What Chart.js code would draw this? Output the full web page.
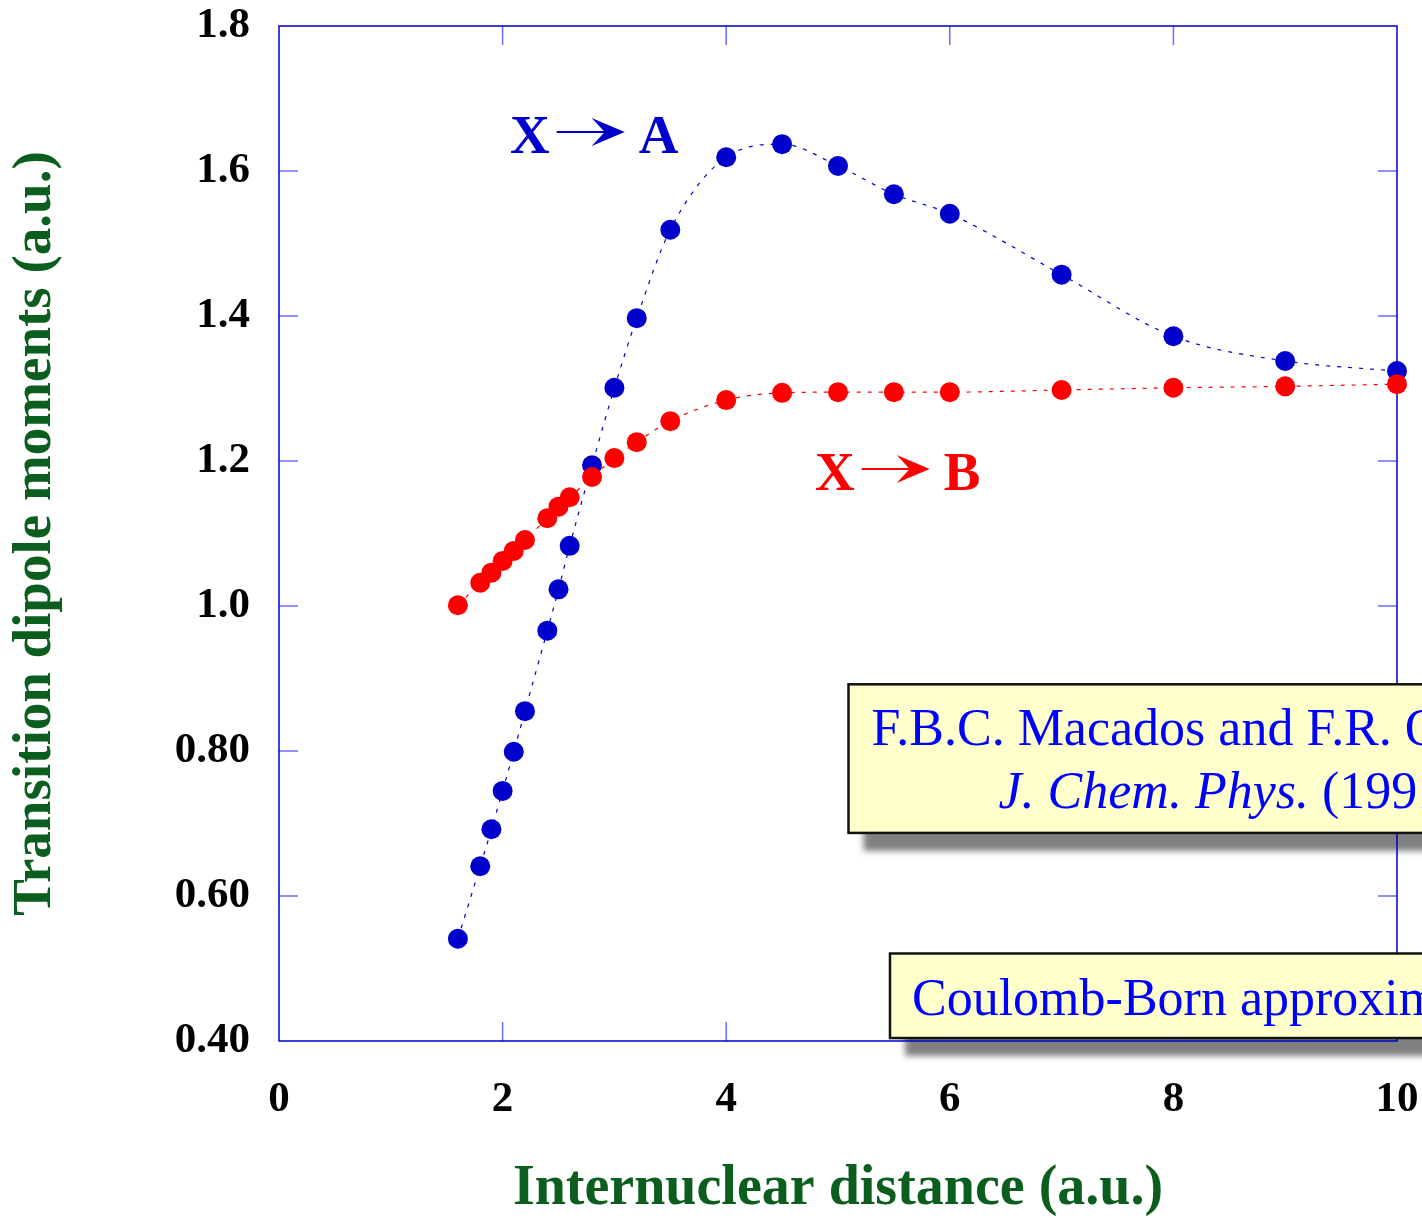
<!DOCTYPE html>
<html>
<head>
<meta charset="utf-8">
<script src="https://cdn.jsdelivr.net/npm/chart.js@4.4.1/dist/chart.umd.min.js"></script>
<style>
  html, body { margin: 0; padding: 0; background: #fff; overflow: hidden; }
  #wrap { width: 1800px; height: 1218px; position: relative; }
</style>
</head>
<body>
<div id="wrap"><canvas id="dipole-chart"></canvas></div>
<script>
const distance = [1.6, 1.8, 1.9, 2.0, 2.1, 2.2, 2.4, 2.5, 2.6, 2.8, 3.0, 3.2, 3.5, 4.0, 4.5, 5.0, 5.5, 6.0, 7.0, 8.0, 9.0, 10.0]
const xToA = [0.541, 0.641, 0.692, 0.745, 0.799, 0.855, 0.966, 1.023, 1.083, 1.194, 1.301, 1.397, 1.519, 1.619, 1.637, 1.607, 1.568, 1.541, 1.457, 1.372, 1.338, 1.324]
const xToB = [1.001, 1.032, 1.046, 1.062, 1.076, 1.091, 1.121, 1.137, 1.150, 1.178, 1.204, 1.226, 1.255, 1.284, 1.294, 1.295, 1.295, 1.295, 1.298, 1.301, 1.303, 1.306]
const xTickLabels = ["0", "2", "4", "6", "8", "10"]
const yTickLabels = ["0.40", "0.60", "0.80", "1.0", "1.2", "1.4", "1.6", "1.8"]

const BLUE = "#0000cc"
const RED = "#ff0000"
const GREEN = "#0b5e1d"
const SERIF = "'Liberation Serif', 'Times New Roman', serif"

// arrow label: "X --> A"
function transition(ctx, x, y, from, to, color) {
    ctx.save()
    ctx.fillStyle = color
    ctx.strokeStyle = color
    ctx.font = "bold 55px " + SERIF
    ctx.textBaseline = "alphabetic"
    ctx.fillText(from, x, y)
    const start = x + ctx.measureText(from).width + 7
    const tip = start + 68
    const ay = y - 21
    ctx.lineWidth = 2
    ctx.beginPath()
    ctx.moveTo(start, ay)
    ctx.lineTo(tip - 18, ay)
    ctx.stroke()
    ctx.beginPath()
    ctx.moveTo(tip, ay)
    ctx.lineTo(tip - 33, ay - 14)
    ctx.lineTo(tip - 20, ay)
    ctx.lineTo(tip - 33, ay + 14)
    ctx.closePath()
    ctx.fill()
    ctx.fillText(to, tip + 14, y)
    ctx.restore()
}

function boxRect(chart, b) {
    const xs = chart.scales.x, ys = chart.scales.y
    const left = xs.getPixelForValue(b.x)
    const top = ys.getPixelForValue(b.top)
    const bottom = ys.getPixelForValue(b.bottom)
    return {left: left, top: top, w: chart.width - left + 20, h: bottom - top}
}

const refBox = {x: 5.094, top: 0.892, bottom: 0.687}
const methodBox = {x: 5.465, top: 0.5207, bottom: 0.4041}

const decorations = {
    id: "decorations",
    beforeDatasetsDraw(chart) {
        const ctx = chart.ctx
        const a = chart.chartArea
        const xs = chart.scales.x, ys = chart.scales.y
        ctx.save()
        // box shadows
        ctx.fillStyle = "#808080"
        ctx.filter = "blur(3px)"
        for (const b of [refBox, methodBox]) {
            const r = boxRect(chart, b)
            ctx.fillRect(r.left + 15, r.top + 18, r.w, r.h)
        }
        ctx.filter = "none"
        // inner ticks on all four sides
        ctx.strokeStyle = "#6b6bff"
        ctx.lineWidth = 1.5
        ctx.beginPath()
        for (const v of [2, 4, 6, 8]) {
            const px = xs.getPixelForValue(v)
            ctx.moveTo(px, a.bottom); ctx.lineTo(px, a.bottom - 19)
            ctx.moveTo(px, a.top); ctx.lineTo(px, a.top + 19)
        }
        for (const v of [0.6, 0.8, 1.0, 1.2, 1.4, 1.6]) {
            const py = ys.getPixelForValue(v)
            ctx.moveTo(a.left, py); ctx.lineTo(a.left + 19, py)
            ctx.moveTo(a.right, py); ctx.lineTo(a.right - 19, py)
        }
        ctx.stroke()
        // frame
        ctx.strokeStyle = BLUE
        ctx.lineWidth = 1.5
        ctx.strokeRect(a.left, a.top, a.right - a.left, a.bottom - a.top)
        ctx.restore()
    },
    afterDatasetsDraw(chart) {
        const ctx = chart.ctx
        const xs = chart.scales.x, ys = chart.scales.y
        ctx.save()
        for (const b of [refBox, methodBox]) {
            const r = boxRect(chart, b)
            ctx.fillStyle = "#ffffcc"
            ctx.fillRect(r.left, r.top, r.w, r.h)
            ctx.strokeStyle = "#111"
            ctx.lineWidth = 2.5
            ctx.strokeRect(r.left, r.top, r.w, r.h)
        }
        ctx.fillStyle = "#0000ff"
        ctx.textBaseline = "alphabetic"
        let r = boxRect(chart, refBox)
        ctx.font = "52px " + SERIF
        ctx.fillText("F.B.C. Macados and F.R. Ornellas", r.left + 23, r.top + 61)
        ctx.font = "italic 52px " + SERIF
        const j = "J. Chem. Phys."
        ctx.fillText(j, r.left + 150, r.top + 124)
        const jw = ctx.measureText(j).width
        ctx.font = "52px " + SERIF
        ctx.fillText(" (1991)", r.left + 150 + jw, r.top + 124)
        r = boxRect(chart, methodBox)
        ctx.fillText("Coulomb-Born approximation", r.left + 22, r.top + 62)
        ctx.restore()

        transition(ctx, xs.getPixelForValue(2.066), ys.getPixelForValue(1.625), "X", "A", BLUE)
        transition(ctx, xs.getPixelForValue(4.794), ys.getPixelForValue(1.16), "X", "B", RED)
    }
}

new Chart(document.getElementById("dipole-chart"), {
    type: "line",
    data: {
        labels: distance,
        datasets: [{
            label: "X -> A",
            data: distance.map((r, i) => ({x: r, y: xToA[i]})),
            borderColor: BLUE,
            backgroundColor: BLUE,
            borderWidth: 1.2,
            borderDash: [4, 7],
            pointRadius: 10,
            pointBorderWidth: 0,
            pointBackgroundColor: BLUE,
            cubicInterpolationMode: "monotone",
            clip: false,
            order: 2},
            {
            label: "X -> B",
            data: distance.map((r, i) => ({x: r, y: xToB[i]})),
            borderColor: RED,
            backgroundColor: RED,
            borderWidth: 1.2,
            borderDash: [4, 7],
            pointRadius: 10,
            pointBorderWidth: 0,
            pointBackgroundColor: RED,
            cubicInterpolationMode: "monotone",
            clip: false,
            order: 1}
        ]},
    options: {
        responsive: true,
        maintainAspectRatio: false,
        animation: false,
        events: [],
        layout: {padding: {top: 26, right: 403, left: 0, bottom: 0}},
        plugins: {legend: {display: false}, tooltip: {enabled: false}},
        scales: {
            x: {
                type: "linear",
                min: 0,
                max: 10,
                afterFit: s => { s.height = 177; s.paddingLeft = 0; s.paddingRight = 0 },
                grid: {display: false, drawTicks: false},
                border: {display: false},
                ticks: {
                    stepSize: 2,
                    padding: 33,
                    color: "#000",
                    font: {family: SERIF, size: 43, weight: "bold"},
                    callback: (v, i) => xTickLabels[i]
                },
                title: {
                    display: true,
                    text: "Internuclear distance (a.u.)",
                    color: GREEN,
                    padding: {top: 0, bottom: 0},
                    font: {family: SERIF, size: 56, weight: "bold", lineHeight: 1}
                }
            },
            y: {
                min: 0.4,
                max: 1.8,
                afterFit: s => { s.width = 279; s.paddingTop = 0; s.paddingBottom = 0 },
                grid: {display: false, drawTicks: false},
                border: {display: false},
                ticks: {
                    stepSize: 0.2,
                    padding: 29,
                    color: "#000",
                    font: {family: SERIF, size: 43, weight: "bold"},
                    callback: (v, i) => yTickLabels[i]
                },
                title: {
                    display: true,
                    text: "Transition dipole moments (a.u.)",
                    color: GREEN,
                    padding: {top: 8, bottom: 0},
                    font: {family: SERIF, size: 55, weight: "bold", lineHeight: 1}
                }
            }
        }
    },
    plugins: [decorations]
})
</script>
</body>
</html>
